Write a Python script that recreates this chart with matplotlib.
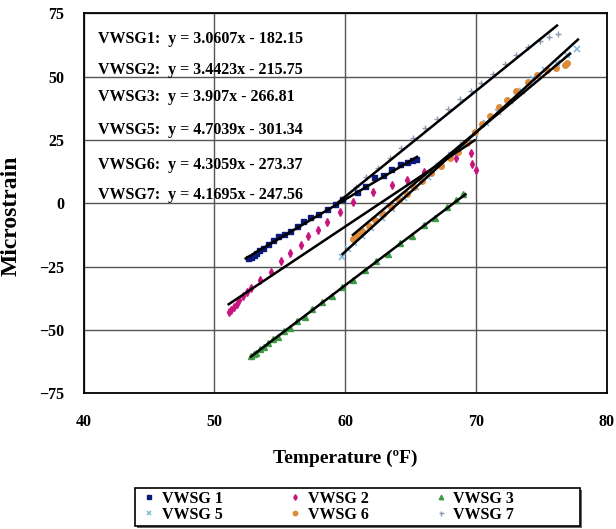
import numpy as np
import matplotlib
matplotlib.use("Agg")
import matplotlib.pyplot as plt
from matplotlib.patches import Rectangle

# gauge readings (temperature in F, microstrain)
x1 = [52.6, 52.8, 53.0, 53.2, 53.4, 53.7, 54.1, 54.5, 54.9, 55.3, 55.8, 56.3, 56.8, 57.3,
      57.9, 58.6, 59.2, 59.8, 60.9, 61.5, 62.2, 62.9, 63.5, 64.2, 64.7, 65.1, 65.4]
y1 = [-21.7, -21.0, -20.3, -19.6, -18.6, -17.6, -15.9, -14.6, -13.1, -12.0, -10.8, -8.9, -6.9, -5.6,
      -4.1, -2.2, -0.3, 1.8, 4.5, 7.0, 10.4, 11.2, 13.5, 15.5, 16.5, 17.0, 17.4]

x2 = [51.1, 51.3, 51.5, 51.7, 51.9, 52.2, 52.5, 52.8, 53.5, 54.3, 55.1, 55.8, 56.6, 57.2,
      57.9, 58.6, 59.6, 60.6, 62.1, 63.6, 64.7, 66.0, 67.3, 68.5, 69.6, 69.7, 70.0]
y2 = [-43.0, -42.0, -40.8, -39.6, -38.3, -36.5, -35.0, -33.5, -30.4, -27.2, -22.9, -19.8, -16.3, -13.1,
      -10.4, -7.4, -3.4, 0.5, 4.4, 7.2, 9.2, 12.5, 15.5, 18.0, 19.8, 15.5, 13.1]

x3 = [52.8, 53.0, 53.2, 53.5, 53.8, 54.1, 54.5, 54.9, 55.3, 55.8, 56.3, 56.9, 57.5, 58.2,
      59.0, 59.8, 60.6, 61.5, 62.4, 63.3, 64.2, 65.1, 66.0, 66.9, 67.8, 68.5, 69.0]
y3 = [-60.2, -59.5, -59.0, -57.5, -56.9, -55.0, -53.6, -52.7, -50.4, -49.2, -46.5, -44.8, -41.9, -39.0,
      -36.6, -33.0, -30.4, -26.2, -22.6, -19.9, -15.7, -12.8, -8.6, -5.7, -1.5, 1.5, 3.5]

x5 = [59.8, 60.2, 60.7, 61.3, 62.0, 62.8, 63.6, 64.5, 65.4, 66.3, 67.2, 68.1, 69.0, 69.9,
      70.8, 71.7, 72.6, 73.5, 74.4, 75.3, 76.2, 77.0, 77.7]
y5 = [-21.0, -18.2, -15.8, -13.0, -9.7, -5.9, -2.2, 2.1, 6.3, 10.5, 14.8, 19.0, 23.2, 27.5,
      31.7, 36.0, 40.2, 44.4, 49.0, 52.5, 55.5, 58.5, 60.8]

x6 = [60.6, 60.9, 61.3, 61.8, 62.3, 62.9, 63.5, 64.1, 64.7, 65.3, 65.9, 66.6, 67.3, 68.0,
      68.6, 69.3, 69.9, 70.5, 71.1, 71.8, 72.4, 73.1, 74.0, 74.7, 75.4, 76.1, 76.8, 77.0]
y6 = [-13.9, -12.6, -11.0, -8.8, -6.6, -4.1, -1.4, 1.2, 3.8, 6.3, 9.0, 11.9, 14.8, 17.8,
      20.4, 24.0, 28.0, 31.5, 34.5, 38.0, 40.9, 44.2, 48.0, 50.7, 52.7, 53.5, 54.6, 55.4]

x7 = [60.0, 60.8, 61.6, 62.5, 63.4, 64.3, 65.2, 66.1, 67.0, 67.9, 68.8, 69.6, 70.4, 71.3,
      72.2, 73.1, 74.0, 74.9, 75.6, 76.3]
y7 = [3.0, 6.5, 10.2, 14.0, 17.9, 21.8, 25.6, 29.6, 33.3, 37.2, 41.0, 44.2, 47.6, 51.2,
      55.0, 58.6, 61.8, 64.0, 65.8, 66.8]

# linear trendlines: slope, intercept, x range
names      = ["VWSG1", "VWSG2", "VWSG3", "VWSG5", "VWSG6", "VWSG7"]
slopes     = [3.0607, 3.4423, 3.907, 4.7039, 4.3059, 4.1695]
intercepts = [-182.15, -215.75, -266.81, -301.34, -273.37, -247.56]
fit_from   = [52.4, 51.1, 52.8, 59.8, 60.6, 59.5]
fit_to     = [65.5, 69.9, 69.2, 77.8, 77.2, 76.2]
eq_y       = [65.0, 52.6, 42.1, 29.0, 15.1, 3.3]

plt.rcParams['font.family'] = ['Liberation Serif', 'DejaVu Serif']
plt.rcParams['font.weight'] = 'bold'

fig = plt.figure(figsize=(6.16, 5.29), dpi=100)
ax = fig.add_axes([83.5 / 616, 1 - 393.3 / 529, (606.7 - 83.5) / 616, (393.3 - 13.3) / 529])

# scatter series
ax.plot(x1, y1, ls='none', marker='s', ms=3.6, color='#0a1a7a', label='VWSG 1', zorder=3)
ax.plot(x2, y2, ls='none', marker='d', ms=3.6, color='#c8157f', label='VWSG 2', zorder=3)
ax.plot(x3, y3, ls='none', marker='^', ms=4, color='#3d9a45', label='VWSG 3', zorder=3)
ax.plot(x5, y5, ls='none', marker='x', ms=4, mew=1.1, color='#7fb6dc', label='VWSG 5', zorder=3)
ax.plot(x6, y6, ls='none', marker='o', ms=4, color='#de8a3a', label='VWSG 6', zorder=3)
ax.plot(x7, y7, ls='none', marker='+', ms=4.5, mew=1.0, color='#8c9bb0', label='VWSG 7', zorder=3)

# trendlines and equations
for i in range(len(names)):
    xs = np.array([fit_from[i], fit_to[i]])
    ax.plot(xs, slopes[i] * xs + intercepts[i], color='black', lw=1.8, zorder=4)
    ax.text(41.1, eq_y[i],
            "{}:  y = {}x - {}".format(names[i], slopes[i], -intercepts[i]),
            fontsize=11.5, fontweight='bold', va='center', ha='left', zorder=5)

ax.set_xlim(40, 80)
ax.set_ylim(-75, 75)
ax.set_xticks([40, 50, 60, 70, 80])
ax.set_yticks([-75, -50, -25, 0, 25, 50, 75])
ax.grid(True, color='#555555', lw=1.0)
ax.set_axisbelow(True)
ax.tick_params(length=0, labelsize=11.5)
ax.tick_params(axis='y', pad=14)
ax.tick_params(axis='x', pad=15)
for lbl in ax.get_xticklabels() + ax.get_yticklabels():
    lbl.set_fontweight('bold')
for sp in ax.spines.values():
    sp.set_linewidth(1.3)

ax.set_xlabel("Temperature (ºF)", fontsize=14, fontweight='bold', labelpad=14)
ax.set_ylabel("Microstrain", fontsize=17, fontweight='bold')
ax.yaxis.set_label_coords(-0.118, 0.467)

# legend box with a drop shadow
fig.patches.append(Rectangle((137 / 616, 1 - 528 / 529), 445 / 616, 38 / 529,
                             transform=fig.transFigure, facecolor='#666666', edgecolor='none'))
fig.patches.append(Rectangle((135 / 616, 1 - 526 / 529), 445 / 616, 38 / 529,
                             transform=fig.transFigure, facecolor='white', edgecolor='black', lw=1.2))

h, l = ax.get_legend_handles_labels()
order = [0, 3, 1, 4, 2, 5]
fig.legend([h[k] for k in order], [l[k] for k in order], ncol=3, frameon=False,
           loc='center left', bbox_to_anchor=(135 / 616, 1 - 507 / 529),
           prop={'family': 'Liberation Serif', 'weight': 'bold', 'size': 11.5},
           handlelength=0.6, handletextpad=0.5, columnspacing=4.2,
           labelspacing=0.0, borderpad=0.1, markerscale=0.8)

fig.savefig("out.png", dpi=100)
